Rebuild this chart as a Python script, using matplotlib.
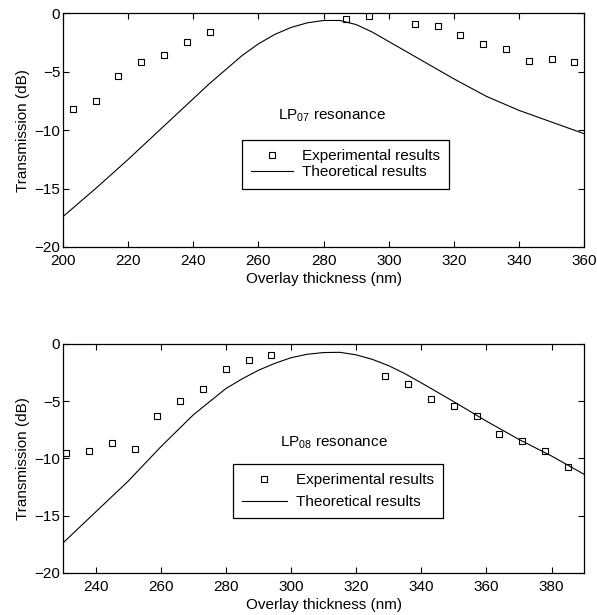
import matplotlib
matplotlib.use("Agg")
import matplotlib.pyplot as plt

plt.rcParams['font.family'] = ['Liberation Sans', 'DejaVu Sans']
plt.rcParams['mathtext.fontset'] = 'custom'
plt.rcParams['mathtext.rm'] = 'Liberation Sans'
plt.rcParams['mathtext.it'] = 'Liberation Sans'

# ---- Top panel: LP07 resonance ----
exp07_x = [203, 210, 217, 224, 231, 238, 245, 287, 294, 308, 315, 322, 329, 336, 343, 350, 357]
exp07_y = [-8.15, -7.52, -5.38, -4.15, -3.52, -2.41, -1.58, -0.47, -0.21, -0.87, -1.04,
           -1.87, -2.58, -3.01, -4.04, -3.92, -4.15]
th07_x = [200, 210, 220, 230, 240, 245, 250, 255, 260, 265, 270, 275, 280, 285, 290, 295,
          300, 305, 310, 320, 330, 340, 350, 360]
th07_y = [-17.4, -15.0, -12.5, -9.9, -7.3, -6.0, -4.8, -3.6, -2.6, -1.8, -1.2, -0.8, -0.6,
          -0.6, -0.95, -1.6, -2.4, -3.2, -4.0, -5.6, -7.1, -8.3, -9.3, -10.3]

# ---- Bottom panel: LP08 resonance ----
exp08_x = [231, 238, 245, 252, 259, 266, 273, 280, 287, 294, 329, 336, 343, 350, 357,
           364, 371, 378, 385]
exp08_y = [-9.51, -9.33, -8.69, -9.22, -6.27, -5.02, -3.97, -2.19, -1.43, -0.93, -2.80,
           -3.53, -4.78, -5.42, -6.27, -7.84, -8.49, -9.33, -10.76]
th08_x = [230, 240, 250, 260, 270, 280, 285, 290, 295, 300, 305, 310, 315, 320, 325, 330,
          335, 340, 350, 360, 370, 380, 390]
th08_y = [-17.4, -14.7, -12.0, -9.0, -6.2, -3.9, -3.05, -2.3, -1.7, -1.2, -0.9, -0.75,
          -0.73, -0.95, -1.35, -1.9, -2.6, -3.4, -5.05, -6.75, -8.35, -9.8, -11.4]

x_label = "Overlay thickness (nm)"
y_label = "Transmission (dB)"
legend_labels = ["Experimental results", "Theoretical results"]

fig = plt.figure(figsize=(5.97, 6.15), dpi=100)
ax1 = fig.add_axes([0.1055, 0.5984, 0.873, 0.3797])
ax2 = fig.add_axes([0.1055, 0.0688, 0.873, 0.3719])

panels = [
    (ax1, exp07_x, exp07_y, th07_x, th07_y, (200, 360), list(range(200, 361, 20)),
     r'LP$_{07}$ resonance', (266, -8.8), (0.343, 0.458), 0.15, 2.75),
    (ax2, exp08_x, exp08_y, th08_x, th08_y, (230, 390), list(range(240, 381, 20)),
     r'LP$_{08}$ resonance', (296.5, -8.6), (0.3257, 0.475), 0.5, 2.95),
]

for ax, ex, ey, tx, ty, xlim, xt, title, tpos, lpos, lsp, hlen in panels:
    ax.plot(ex, ey, linestyle='none', marker='s', markersize=4, markerfacecolor='white',
            markeredgecolor='black', markeredgewidth=0.8, label=legend_labels[0])
    ax.plot(tx, ty, color='black', linewidth=0.8, label=legend_labels[1])
    ax.set_xlim(*xlim)
    ax.set_ylim(-20, 0)
    ax.set_yticks([-20, -15, -10, -5, 0])
    ax.set_xticks(xt)
    ax.tick_params(direction='in', top=True, right=True, length=4, width=0.8,
                   labelsize=11)
    ax.tick_params(axis='x', pad=5)
    ax.tick_params(axis='y', pad=2)
    for s in ax.spines.values():
        s.set_linewidth(0.9)
    ax.set_xlabel(x_label, fontsize=11, labelpad=3)
    ax.set_ylabel(y_label, fontsize=11, labelpad=3)
    ax.text(tpos[0], tpos[1], title, fontsize=11, va='center', ha='left')
    leg = ax.legend(loc='upper left', bbox_to_anchor=lpos, fontsize=11, frameon=True,
                    fancybox=False, edgecolor='black', framealpha=1, borderpad=0.6,
                    handlelength=hlen, handletextpad=0.6, labelspacing=lsp,
                    borderaxespad=0)
    leg.get_frame().set_linewidth(0.9)

fig.savefig("out.png", dpi=100)
